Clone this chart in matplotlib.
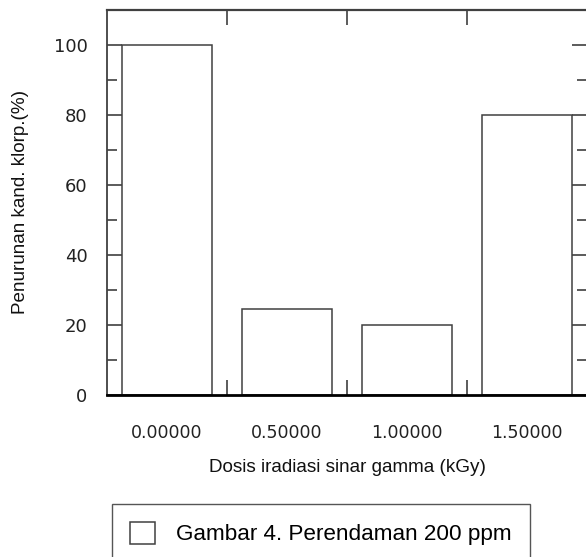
import numpy as np
import matplotlib.pyplot as plt
from matplotlib.ticker import FixedLocator

# data
doses = [0.0, 0.5, 1.0, 1.5]
dose_labels = ['0.00000', '0.50000', '1.00000', '1.50000']
decrease = [100, 24.5, 20, 80]
legend_label = 'Gambar 4. Perendaman 200 ppm'

edge = '#404040'
label_font = ['Liberation Sans', 'DejaVu Sans']

fig = plt.figure(figsize=(5.86, 5.57), dpi=100)
ax = fig.add_axes([107 / 586, 162 / 557, 480 / 586, 385 / 557])

bars = ax.bar(doses, decrease, width=0.375, facecolor='white',
              edgecolor=edge, linewidth=1.1, label=legend_label, zorder=2)

ax.set_xlim(-0.25, 1.75)
ax.set_ylim(0, 110)

ax.set_xticks(doses)
ax.set_xticklabels(dose_labels)
ax.xaxis.set_minor_locator(FixedLocator([0.25, 0.75, 1.25]))
ax.set_yticks(np.arange(0, 101, 20))
ax.yaxis.set_minor_locator(FixedLocator([10, 30, 50, 70, 90]))

ax.tick_params(axis='x', which='major', length=0, pad=21, labelsize=12.5,
               labelcolor='#222222')
ax.tick_params(axis='x', which='minor', direction='in', length=11,
               width=1.2, color=edge, top=True, bottom=True)
ax.tick_params(axis='y', which='major', direction='in', length=11,
               width=1.2, color=edge, left=True, right=True, pad=14,
               labelsize=13, labelcolor='#222222')
ax.tick_params(axis='y', which='minor', direction='in', length=7,
               width=1.2, color=edge, left=True, right=True)

for name, sp in ax.spines.items():
    sp.set_color(edge)
    sp.set_linewidth(1.3)
ax.spines['bottom'].set_color('black')
ax.spines['bottom'].set_linewidth(2.0)
ax.spines['top'].set_linewidth(1.6)

ax.set_xlabel('Dosis iradiasi sinar gamma (kGy)', family=label_font,
              fontsize=13.6, labelpad=12, color='#111111')
ax.set_ylabel('Penurunan kand. klorp.(%)', family=label_font,
              fontsize=13.6, labelpad=18, color='#111111')

leg = fig.legend(handles=[bars], labels=[legend_label], loc='upper left',
                 bbox_to_anchor=(112 / 586, 1 - 504 / 557),
                 borderaxespad=0, fancybox=False, framealpha=1,
                 edgecolor='#555555', borderpad=0.8,
                 handlelength=1.1, handleheight=1.1, handletextpad=0.95,
                 prop={'family': label_font, 'size': 16.2})
leg.get_frame().set_linewidth(1.0)

fig.savefig('out.png', dpi=100)
